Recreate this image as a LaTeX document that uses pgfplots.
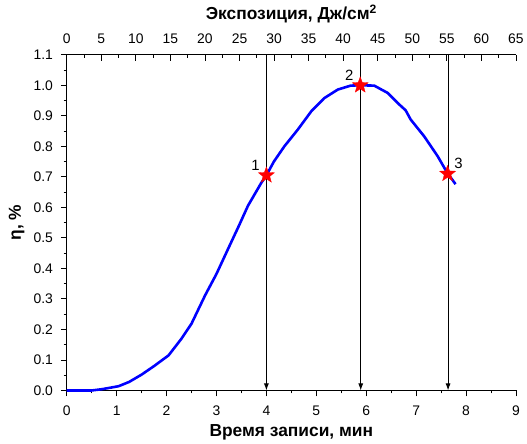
\documentclass[border=0pt]{standalone}
\usepackage{fontspec}
\setmainfont{Liberation Sans}
\usepackage{pgfplots}
\pgfplotsset{compat=1.18}
\usetikzlibrary{arrows.meta}

% filled five-point star
\pgfdeclareplotmark{fstar}{%
  \pgfpathmoveto{\pgfpointpolar{90}{\pgfplotmarksize}}%
  \pgfpathlineto{\pgfpointpolar{126}{0.42\pgfplotmarksize}}%
  \pgfpathlineto{\pgfpointpolar{162}{\pgfplotmarksize}}%
  \pgfpathlineto{\pgfpointpolar{198}{0.42\pgfplotmarksize}}%
  \pgfpathlineto{\pgfpointpolar{234}{\pgfplotmarksize}}%
  \pgfpathlineto{\pgfpointpolar{270}{0.42\pgfplotmarksize}}%
  \pgfpathlineto{\pgfpointpolar{306}{\pgfplotmarksize}}%
  \pgfpathlineto{\pgfpointpolar{342}{0.42\pgfplotmarksize}}%
  \pgfpathlineto{\pgfpointpolar{18}{\pgfplotmarksize}}%
  \pgfpathlineto{\pgfpointpolar{54}{0.42\pgfplotmarksize}}%
  \pgfpathclose
  \pgfusepathqfillstroke}

\tikzset{starlabel/.style={anchor=center, black, font=\fontsize{15}{17}\selectfont}}

\pgfplotsset{
  common/.style={
    scale only axis, width=451bp, height=337bp,
    ymin=0, ymax=1.1,
    line width=1pt,
    major tick length=6bp, minor tick length=3bp,
    tick style={black, line width=0.9pt},
    ticklabel style={font=\fontsize{14}{16}\selectfont},
    label style={font=\fontsize{17.5}{19}\selectfont},
    /pgf/number format/assume math mode=true,
  },
}

\begin{document}
\begin{tikzpicture}
\begin{axis}[common,
    xmin=0, xmax=9,
    axis x line*=bottom, axis y line*=left,
    tick align=outside,
    xtick={0,1,2,3,4,5,6,7,8,9},
    minor x tick num=1,
    ytick={0,0.1,0.2,0.3,0.4,0.5,0.6,0.7,0.8,0.9,1.0,1.1},
    minor y tick num=1,
    yticklabel style={xshift=-4bp, /pgf/number format/.cd, fixed, fixed zerofill, precision=1},
    xticklabel style={yshift=-6bp},
    xlabel={\bfseries Время записи, мин},
    ylabel={\bfseries η, \%},
    xlabel style={yshift=-1bp},
    ylabel style={yshift=2bp},
    clip=false,
  ]
  \addplot[blue, line width=2.6bp, line join=round] coordinates {
    (0,0) (0.5,0) (0.7,0.004) (1.04,0.014) (1.25,0.028) (1.5,0.052)
    (1.75,0.08) (2.04,0.115) (2.3,0.17) (2.5,0.219) (2.77,0.311)
    (3.0,0.382) (3.23,0.463) (3.45,0.54) (3.63,0.605) (3.9,0.681)
    (4.0,0.705) (4.15,0.75) (4.36,0.80) (4.63,0.855) (4.9,0.915)
    (5.16,0.958) (5.43,0.986) (5.69,0.999) (5.88,1.0) (6.16,0.999)
    (6.43,0.975) (6.63,0.942) (6.79,0.918) (6.89,0.888) (7.16,0.833)
    (7.43,0.768) (7.62,0.714) (7.79,0.676)
  };
  \addplot[black, line width=0.9pt, -{Latex[length=7bp,width=5bp]}] coordinates {(4.0,1.1) (4.0,0)};
  \addplot[black, line width=0.9pt, -{Latex[length=7bp,width=5bp]}] coordinates {(5.89,1.1) (5.89,0)};
  \addplot[black, line width=0.9pt, -{Latex[length=7bp,width=5bp]}] coordinates {(7.64,1.1) (7.64,0)};
  \addplot[only marks, mark=fstar, mark size=8.5bp, red, line width=0.3pt,
    nodes near coords={1},
    nodes near coords style={starlabel, xshift=-11bp, yshift=10bp}]
    coordinates {(4.0,0.705)};
  \addplot[only marks, mark=fstar, mark size=8.5bp, red, line width=0.3pt,
    nodes near coords={2},
    nodes near coords style={starlabel, xshift=-11bp, yshift=10bp}]
    coordinates {(5.88,1.0)};
  \addplot[only marks, mark=fstar, mark size=8.5bp, red, line width=0.3pt,
    nodes near coords={3},
    nodes near coords style={starlabel, xshift=11bp, yshift=10bp}]
    coordinates {(7.63,0.71)};
\end{axis}
\begin{axis}[common,
    xmin=0, xmax=65,
    axis x line*=top, hide y axis,
    tick align=inside,
    xtick={0,5,...,65},
    minor x tick num=1,
    xlabel={\bfseries Экспозиция, Дж/см\textsuperscript{2}},
    xlabel style={yshift=4bp},
    xticklabel style={yshift=7bp},
  ]
\end{axis}
% page margins as in the reference
\path ([xshift=-67bp,yshift=-48bp]current axis.south west)
      ([xshift=8bp,yshift=55bp]current axis.north east);
\end{tikzpicture}
\end{document}
